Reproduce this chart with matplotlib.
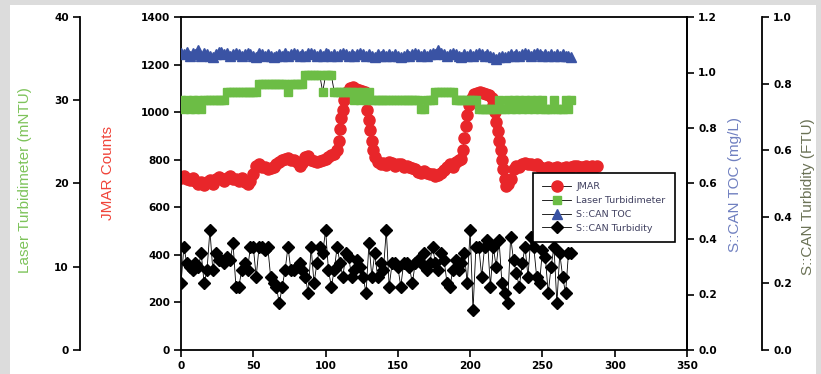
import numpy as np
import matplotlib.pyplot as plt
from matplotlib.patches import Rectangle

plt.rcParams['font.family'] = 'DejaVu Sans'

# sample times for the laser, TOC and turbidity series (every 2 units)
t = np.arange(0, 272, 2)

jmar_x = [0, 2, 4, 6, 8, 10, 12, 14, 16, 18,
          20, 22, 24, 26, 28, 30, 32, 34, 36, 38,
          40, 42, 44, 46, 48, 50, 52, 54, 56, 58,
          60, 62, 64, 66, 68, 70, 72, 74, 76, 78,
          80, 82, 84, 86, 88, 90, 92, 94, 96, 98,
          100, 102, 104, 106, 108, 109, 110, 111, 112, 113,
          115, 117, 119, 121, 123, 125, 127, 128, 129, 130,
          131, 132, 133, 134, 136, 138, 140, 142, 144, 146,
          148, 150, 152, 154, 156, 158, 160, 162, 164, 166,
          168, 170, 172, 174, 176, 178, 180, 182, 184, 186,
          188, 190, 192, 194, 195, 196, 197, 198, 199, 201,
          203, 205, 207, 209, 211, 213, 215, 216, 217, 218,
          219, 220, 221, 222, 223, 224, 225, 226, 228, 230,
          232, 234, 236, 238, 240, 242, 244, 246, 248, 250,
          252, 254, 256, 258, 260, 262, 264, 266, 268, 270,
          272, 274, 276, 278, 280, 282, 284, 286, 288]
jmar_y = [725, 730, 720, 715, 725, 712, 700, 708, 695, 705,
          715, 700, 718, 728, 720, 712, 725, 730, 720, 718,
          712, 722, 705, 700, 712, 740, 775, 780, 770, 768,
          760, 765, 770, 780, 790, 800, 805, 808, 800, 798,
          790, 775, 785, 810, 815, 800, 795, 790, 795, 800,
          805, 812, 818, 825, 840, 880, 930, 975, 1010, 1050,
          1085, 1100, 1105, 1098, 1095, 1090, 1085, 1060, 1010, 965,
          925, 880, 840, 810, 790, 782, 785, 778, 790, 785,
          775, 780, 780, 770, 772, 768, 765, 760, 750, 745,
          752, 745, 740, 738, 730, 735, 745, 755, 768, 780,
          770, 790, 800, 805, 840, 890, 940, 990, 1030, 1060,
          1075, 1080, 1085, 1080, 1075, 1070, 1060, 1030, 1000, 960,
          920, 880, 840, 800, 760, 720, 690, 700, 720, 760,
          775, 770, 780, 785, 780, 782, 778, 780, 770, 765,
          760, 768, 762, 765, 770, 760, 765, 770, 762, 768,
          775, 772, 768, 770, 775, 768, 772, 770, 775]

laser = [30, 29, 30, 29, 30, 29, 30, 29, 30, 30,
         30, 30, 30, 30, 30, 30, 31, 31, 31, 31,
         31, 31, 31, 31, 31, 31, 31, 32, 32, 32,
         32, 32, 32, 32, 32, 32, 32, 31, 32, 32,
         32, 32, 32, 33, 33, 33, 33, 33, 33, 31,
         33, 33, 33, 31, 31, 31, 31, 31, 31, 31,
         30, 31, 30, 31, 30, 31, 30, 30, 30, 30,
         30, 30, 30, 30, 30, 30, 30, 30, 30, 30,
         30, 30, 30, 29, 29, 30, 30, 30, 31, 31,
         31, 31, 31, 31, 31, 30, 30, 30, 30, 30,
         30, 30, 30, 29, 29, 29, 29, 29, 29, 29,
         30, 29, 29, 30, 29, 30, 29, 30, 29, 30,
         29, 30, 29, 30, 29, 30, 29, 29, 29, 30,
         29, 29, 29, 30, 29, 30]

toc = [1.07, 1.065, 1.075, 1.06, 1.07, 1.065, 1.08, 1.06, 1.07, 1.065,
       1.06, 1.055, 1.065, 1.075, 1.075, 1.065, 1.07, 1.06, 1.065, 1.07,
       1.065, 1.06, 1.065, 1.07, 1.065, 1.06, 1.055, 1.07, 1.065, 1.06,
       1.065, 1.06, 1.055, 1.06, 1.065, 1.06, 1.07, 1.06, 1.065, 1.07,
       1.065, 1.06, 1.065, 1.06, 1.07, 1.07, 1.065, 1.06, 1.065, 1.06,
       1.07, 1.065, 1.06, 1.065, 1.06, 1.065, 1.07, 1.065, 1.06, 1.065,
       1.06, 1.065, 1.07, 1.065, 1.06, 1.065, 1.06, 1.055, 1.065, 1.06,
       1.065, 1.06, 1.065, 1.06, 1.065, 1.06, 1.055, 1.06, 1.065, 1.06,
       1.065, 1.07, 1.065, 1.06, 1.065, 1.06, 1.065, 1.07, 1.065, 1.08,
       1.07, 1.065, 1.06, 1.065, 1.07, 1.065, 1.06, 1.055, 1.065, 1.06,
       1.065, 1.06, 1.065, 1.07, 1.065, 1.06, 1.065, 1.06, 1.055, 1.05,
       1.055, 1.06, 1.055, 1.06, 1.065, 1.06, 1.065, 1.06, 1.065, 1.07,
       1.065, 1.06, 1.065, 1.07, 1.065, 1.06, 1.065, 1.06, 1.065, 1.06,
       1.065, 1.06, 1.065, 1.06, 1.06, 1.055]

turb = [0.20, 0.31, 0.26, 0.25, 0.24, 0.26, 0.25, 0.29, 0.20, 0.24,
        0.36, 0.24, 0.29, 0.27, 0.27, 0.26, 0.28, 0.27, 0.32, 0.19,
        0.19, 0.24, 0.26, 0.24, 0.31, 0.31, 0.22, 0.31, 0.31, 0.30,
        0.31, 0.22, 0.20, 0.19, 0.14, 0.19, 0.24, 0.31, 0.24, 0.24,
        0.25, 0.26, 0.24, 0.22, 0.17, 0.31, 0.20, 0.26, 0.31, 0.29,
        0.36, 0.24, 0.19, 0.24, 0.31, 0.26, 0.22, 0.29, 0.28, 0.22,
        0.24, 0.27, 0.25, 0.22, 0.17, 0.32, 0.22, 0.29, 0.22, 0.26,
        0.24, 0.36, 0.19, 0.26, 0.26, 0.25, 0.19, 0.26, 0.26, 0.25,
        0.20, 0.26, 0.27, 0.26, 0.29, 0.24, 0.26, 0.31, 0.26, 0.24,
        0.29, 0.27, 0.20, 0.19, 0.24, 0.27, 0.24, 0.26, 0.29, 0.20,
        0.36, 0.12, 0.31, 0.31, 0.22, 0.31, 0.33, 0.19, 0.31, 0.25,
        0.33, 0.20, 0.17, 0.14, 0.34, 0.27, 0.23, 0.19, 0.26, 0.31,
        0.22, 0.34, 0.31, 0.22, 0.20, 0.30, 0.28, 0.17, 0.25, 0.31,
        0.14, 0.29, 0.22, 0.17, 0.29, 0.29]

W, H = 821, 374
fig = plt.figure(figsize=(W / 100, H / 100), dpi=100)
fig.patch.set_facecolor('#dcdcdc')
fig.add_artist(Rectangle((10 / W, 0), 806 / W, 369 / H, transform=fig.transFigure,
                         facecolor='white', edgecolor='none', zorder=-10))

ax = fig.add_axes([181 / W, 24 / H, 506 / W, 333 / H])
ax.set_facecolor('none')
l1, = ax.plot(jmar_x, jmar_y, '-o', color='black', lw=0.6, ms=8,
              mfc='#e8262a', mec='#e8262a', label='JMAR')
ax.set_xlim(0, 350)
ax.set_ylim(0, 1400)
ax.set_xticks(range(0, 351, 50))
ax.set_yticks(range(0, 1401, 200))

# laser turbidimeter, offset left axis
ax2 = ax.twinx()
ax2.spines['left'].set_position(('axes', -101 / 506))
ax2.yaxis.set_ticks_position('left')
for s in ['right', 'top', 'bottom']:
    ax2.spines[s].set_visible(False)
l2, = ax2.plot(t, laser, '-s', color='black', lw=0.6, ms=6.2,
               mfc='#6cbd45', mec='#6cbd45', label='Laser Turbidimeter')
ax2.set_ylim(0, 40)
ax2.set_yticks(range(0, 41, 10))

# S::CAN TOC on the right
ax3 = ax.twinx()
for s in ['left', 'top', 'bottom']:
    ax3.spines[s].set_visible(False)
l3, = ax3.plot(t, toc, '-^', color='black', lw=0.6, ms=6.5,
               mfc='#3a53a4', mec='#3a53a4', label='S::CAN TOC')
ax3.set_ylim(0, 1.2)
ax3.set_yticks(np.arange(0, 1.21, 0.2))
ax3.yaxis.set_major_formatter(plt.FormatStrFormatter('%.1f'))

# S::CAN turbidity, offset right axis
ax4 = ax.twinx()
ax4.spines['right'].set_position(('axes', 581 / 506))
for s in ['left', 'top', 'bottom']:
    ax4.spines[s].set_visible(False)
l4, = ax4.plot(t, turb, '-D', color='black', lw=0.6, ms=6,
               mfc='black', mec='black', label='S::CAN Turbidity')
ax4.set_ylim(0, 1.0)
ax4.set_yticks(np.arange(0, 1.01, 0.2))
ax4.yaxis.set_major_formatter(plt.FormatStrFormatter('%.1f'))

for a in [ax, ax2, ax3, ax4]:
    for s in a.spines.values():
        s.set_linewidth(1.3)
    a.tick_params(direction='out', length=5, width=1.2, labelsize=7.6, pad=3)
    for lab in a.get_xticklabels() + a.get_yticklabels():
        lab.set_fontweight('bold')

leg = ax4.legend([l1, l2, l3, l4], ['JMAR', 'Laser Turbidimeter', 'S::CAN TOC', 'S::CAN Turbidity'],
                 loc='upper left', bbox_to_anchor=(352 / 506, 177 / 333), borderaxespad=0,
                 fancybox=False, framealpha=1, edgecolor='black', fontsize=6.8,
                 handlelength=3.0, handletextpad=0.6, labelspacing=0.5, borderpad=1.0)
leg.get_frame().set_linewidth(1.2)
for txt in leg.get_texts():
    txt.set_color('#404060')

fig.text(25 / W, 1 - 180 / H, 'Laser Turbidimeter (mNTU)', rotation=90, ha='center', va='center',
         color='#7dc35a', fontsize=11, family='Liberation Sans')
fig.text(108 / W, 1 - 173 / H, 'JMAR Counts', rotation=90, ha='center', va='center',
         color='#f0443a', fontsize=11, family='Liberation Sans')
fig.text(735 / W, 1 - 185 / H, 'S::CAN TOC (mg/L)', rotation=90, ha='center', va='center',
         color='#7080c0', fontsize=11, family='Liberation Sans')
fig.text(808 / W, 1 - 197 / H, 'S::CAN Turbidity (FTU)', rotation=90, ha='center', va='center',
         color='#6b7256', fontsize=11, family='Liberation Sans')

fig.savefig('out.png', dpi=100, facecolor=fig.get_facecolor())
